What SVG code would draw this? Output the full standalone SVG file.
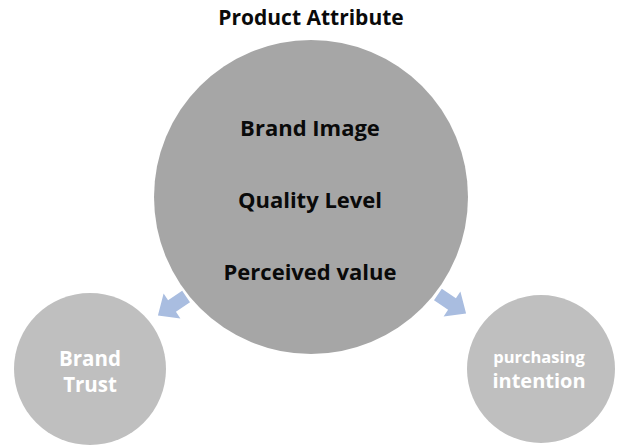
<svg xmlns="http://www.w3.org/2000/svg" width="617" height="446" viewBox="0 0 617 446">
<defs>
<style>
.t{font-family:"Open Sans","Noto Sans","Liberation Sans",sans-serif;font-weight:bold;text-anchor:middle}
.dark{fill:#0a0a0a}
.light{fill:#fff}
.arrow{fill:#a9bde0}
</style>
<path id="arr" d="M-17,-7 L0,-7 L0,-15 L17,0 L0,15 L0,7 L-17,7 Z"/>
</defs>
<rect width="617" height="446" fill="#fff"/>
<text class="t dark" x="311" y="25" font-size="21">Product Attribute</text>
<g id="product-attribute">
<circle cx="311" cy="197" r="157" fill="#a6a6a6"/>
<text class="t dark" x="310" y="136" font-size="22">Brand Image</text>
<text class="t dark" x="310" y="208" font-size="22">Quality Level</text>
<text class="t dark" x="310" y="280" font-size="22">Perceived value</text>
</g>
<g id="brand-trust">
<circle cx="90" cy="369" r="76" fill="#bfbfbf"/>
<text class="t light" x="90" y="366" font-size="20.5">Brand</text>
<text class="t light" x="90" y="392" font-size="20.5">Trust</text>
</g>
<g id="purchasing-intention">
<circle cx="541" cy="369" r="74" fill="#bfbfbf"/>
<text class="t light" x="539" y="363" font-size="16.5">purchasing</text>
<text class="t light" x="539" y="388" font-size="20">intention</text>
</g>
<g id="connectors">
<use href="#arr" class="arrow" transform="translate(172,306) rotate(146)"/>
<use href="#arr" class="arrow" transform="translate(452,304) rotate(34)"/>
</g>
</svg>
